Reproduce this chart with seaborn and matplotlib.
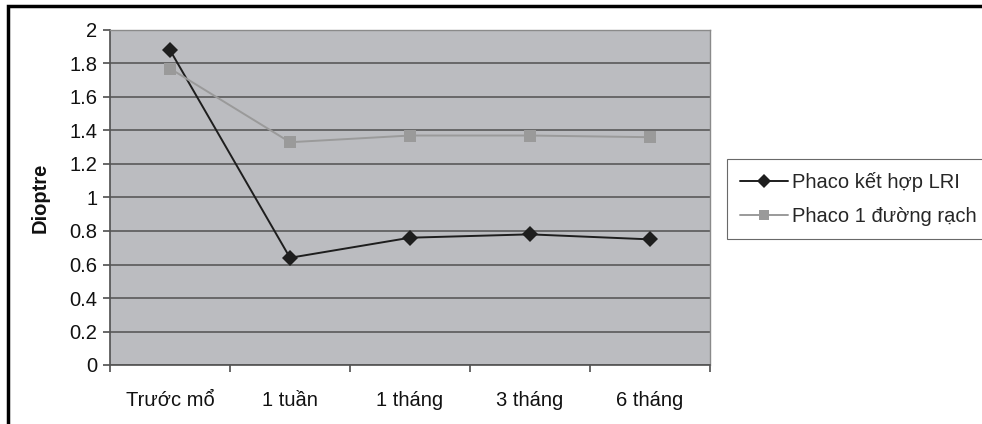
import matplotlib
matplotlib.use("Agg")
import matplotlib.pyplot as plt
import seaborn as sns
import pandas as pd
from matplotlib.lines import Line2D
from matplotlib.patches import Rectangle

categories = ["Trước mổ", "1 tuần", "1 tháng", "3 tháng", "6 tháng"]
series_names = ["Phaco kết hợp LRI", "Phaco 1 đường rạch"]
lri_values = [1.88, 0.64, 0.76, 0.78, 0.75]
single_values = [1.77, 1.33, 1.37, 1.37, 1.36]
y_ticks = [0, 0.2, 0.4, 0.6, 0.8, 1, 1.2, 1.4, 1.6, 1.8, 2]
y_tick_labels = ["0", "0.2", "0.4", "0.6", "0.8", "1", "1.2", "1.4", "1.6", "1.8", "2"]

rows = []
for name, vals in zip(series_names, [lri_values, single_values]):
    for i, v in enumerate(vals):
        rows.append({"pos": i, "val": v, "series": name})
df = pd.DataFrame(rows)

sns.set_theme(style="white")
plt.rcParams["font.family"] = ["Liberation Sans", "DejaVu Sans"]

FS = 14.5

fig = plt.figure(figsize=(9.82, 4.24), dpi=100)
ax = fig.add_axes([110 / 982, 1 - 365 / 424, 600 / 982, 335 / 424])
ax.set_facecolor("#bbbcc0")

palette = {series_names[0]: "#1e1e1e", series_names[1]: "#9a9a9a"}
sns.lineplot(data=df, x="pos", y="val", hue="series", style="series",
             markers={series_names[0]: "D", series_names[1]: "s"},
             dashes=False, palette=palette, ax=ax, legend=False,
             linewidth=1.4, markersize=8, markeredgewidth=0, zorder=3)

ax.set_xlim(-0.5, 4.5)
ax.set_ylim(0, 2)
ax.set_yticks(y_ticks)
ax.set_yticklabels(y_tick_labels)
ax.yaxis.grid(True, color="#505050", linewidth=1.1)
ax.set_axisbelow(True)

ax.set_xticks([-0.5, 0.5, 1.5, 2.5, 3.5, 4.5])
ax.set_xticklabels([])
ax.set_xticks(range(len(categories)), minor=True)
ax.set_xticklabels(categories, minor=True)
ax.tick_params(axis="x", which="major", length=5, color="#555555", direction="out", bottom=True)
ax.tick_params(axis="x", which="minor", length=0, pad=19, labelsize=FS, colors="#111111")
ax.tick_params(axis="y", length=5, color="#555555", direction="out", left=True, pad=4,
               labelsize=FS, labelcolor="#111111")

for side in ["top", "right"]:
    ax.spines[side].set_color("#8a8a8a")
    ax.spines[side].set_linewidth(1.0)
ax.spines["left"].set_color("#555555")
ax.spines["bottom"].set_color("#555555")

ax.set_xlabel("")
ax.set_ylabel("Dioptre", fontsize=FS, fontweight="bold", color="#111111")
ax.yaxis.set_label_coords((50 - 110) / 600, 0.5)

handles = [
    Line2D([], [], color="#1e1e1e", marker="D", markersize=7, linewidth=1.4, markeredgewidth=0),
    Line2D([], [], color="#9a9a9a", marker="s", markersize=7, linewidth=1.4, markeredgewidth=0),
]
leg = fig.legend(handles, series_names, loc="upper left",
                 bbox_to_anchor=(727 / 982, 1 - 159 / 424),
                 frameon=True, fancybox=False, fontsize=FS,
                 handlelength=2.4, handletextpad=0.2, borderpad=0.65,
                 labelspacing=0.75, borderaxespad=0)
leg.get_frame().set_edgecolor("#444444")
leg.get_frame().set_linewidth(0.8)

# outer frame (top and left visible)
fig.add_artist(Rectangle((8 / 982, -0.1), 1.2, 1 - 6 / 424 + 0.1,
                         transform=fig.transFigure, fill=False,
                         edgecolor="black", linewidth=2.5))

fig.savefig("out.png", dpi=100)
